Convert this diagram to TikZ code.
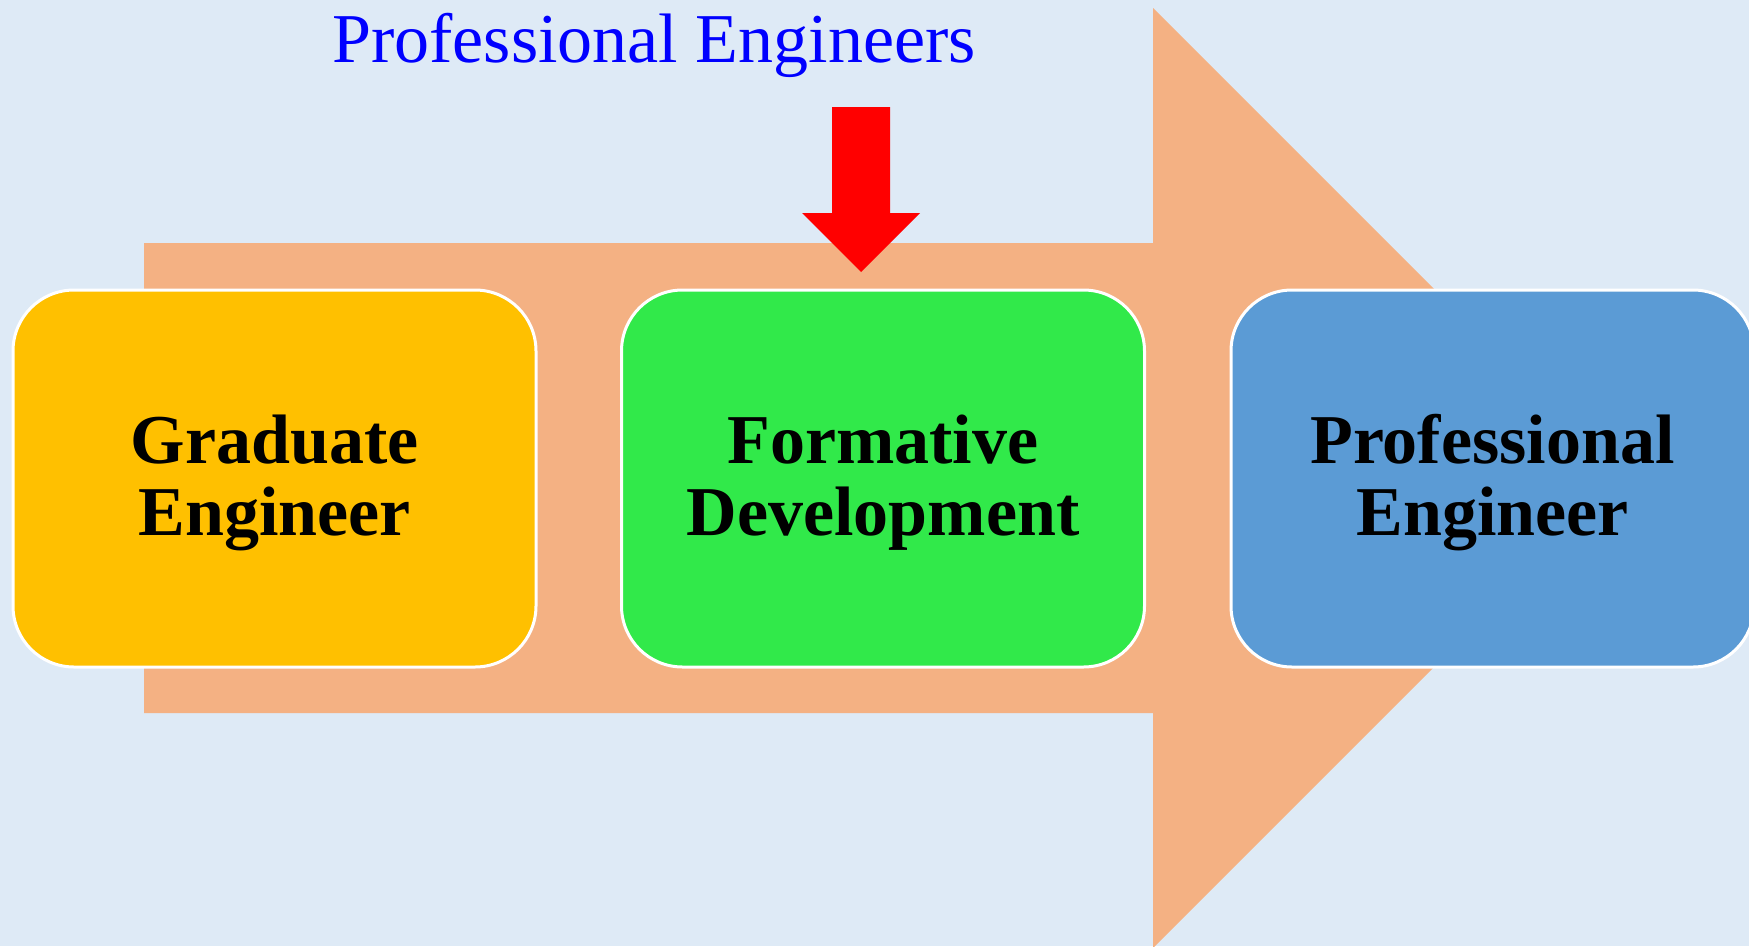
\documentclass[tikz,border=0pt]{standalone}
\usepackage{fontspec}
\setmainfont{Liberation Serif}
\definecolor{bgblue}{HTML}{DEEAF6}
\definecolor{flowfill}{HTML}{F4B183}
\definecolor{gradfill}{HTML}{FFC000}
\definecolor{formfill}{HTML}{31E94A}
\definecolor{profill}{HTML}{5B9BD5}
\definecolor{titleblue}{HTML}{0000FF}
\begin{document}
\begin{tikzpicture}[x=1pt,y=-1pt,
  stagebox/.style={rectangle, rounded corners=61pt, draw=white, line width=3pt,
    minimum width=523pt, minimum height=377pt, inner sep=0pt, align=center,
    text height=128pt, text depth=15pt,
    font=\bfseries\fontsize{70}{72}\selectfont}]
  % background and page frame
  \fill[bgblue] (0,0) rectangle (1749,946);
  \useasboundingbox (0,0) rectangle (1749,946);
  % broad block arrow behind the stages
  \fill[flowfill] (144,243) -- (1153,243) -- (1153,8) -- (1623,478)
    -- (1153,948) -- (1153,713) -- (144,713) -- cycle;
  % the three stages
  \node[stagebox, fill=gradfill] (grad) at (274.5,478.5) {Graduate\\Engineer};
  \node[stagebox, fill=formfill] (form) at (883,478.5) {Formative\\Development};
  \node[stagebox, fill=profill] (prof) at (1492.5,478.5) {Professional\\Engineer};
  % heading
  \node[anchor=base, text=titleblue, inner sep=0pt,
    font=\fontsize{70}{84}\selectfont] (title) at (654,62) {Professional Engineers};
  % red down arrow onto the middle stage
  \fill[red] (832,107) -- (890,107) -- (890,213) -- (920,213) -- (861,272)
    -- (802,213) -- (832,213) -- cycle;
\end{tikzpicture}
\end{document}
